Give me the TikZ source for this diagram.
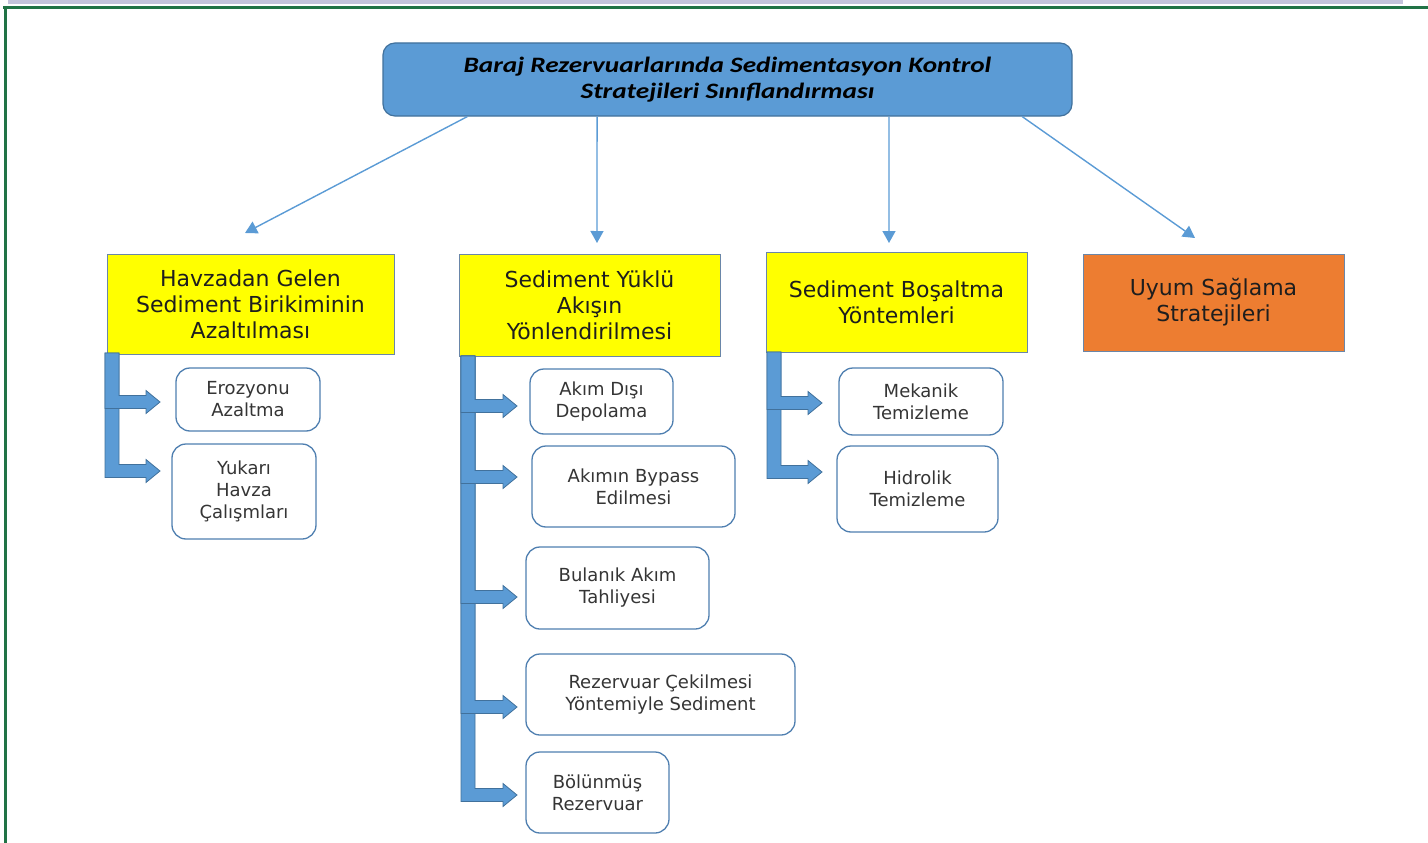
\documentclass[tikz,border=0pt]{standalone}
\usepackage{fontspec}
\setmainfont{DejaVu Sans}
\newfontfamily\titlefont[FakeStretch=1.24]{Carlito}
\usetikzlibrary{arrows.meta,calc}
\definecolor{tblue}{HTML}{5B9BD5}
\definecolor{tborder}{HTML}{41719C}
\definecolor{ybox}{HTML}{FFFF00}
\definecolor{yborder}{HTML}{6A86A8}
\definecolor{obox}{HTML}{ED7D31}
\definecolor{cborder}{HTML}{4F7FB0}
\definecolor{txt}{HTML}{1E1E1E}
\definecolor{xlgreen}{HTML}{217346}
\definecolor{band}{HTML}{C4C4DC}
\newcommand{\bentarr}[2]{%
  \path[bent] let \p1=(#1), \p2=(#2) in
    (\x1,\y1) -- (\x1+14pt,\y1) -- (\x1+14pt,\y2+6.5pt) -- (\x2-14pt,\y2+6.5pt)
    -- (\x2-14pt,\y2+11.5pt) -- (\x2,\y2) -- (\x2-14pt,\y2-11.5pt)
    -- (\x2-14pt,\y2-6.5pt) -- (\x1,\y2-6.5pt) -- cycle;}
\begin{document}
\begin{tikzpicture}[x=1pt,y=-1pt,
  titlebox/.style={draw=tborder, fill=tblue, rounded corners=12pt, line width=1.2pt,
    minimum width=689pt, minimum height=73pt, inner sep=0pt, align=center,
    font=\titlefont\bfseries\itshape\fontsize{22}{26}\selectfont, text=black},
  catbox/.style={draw=yborder, fill=ybox, line width=1pt, inner sep=0pt, align=center,
    font=\fontsize{22}{26}\selectfont, text=txt},
  childbox/.style={draw=cborder, fill=white, rounded corners=14pt, line width=1.3pt,
    inner sep=0pt, align=center, font=\fontsize{18}{22}\selectfont, text=txt!90},
  link/.style={draw=tblue, line width=1.4pt, -{Triangle[length=12pt,width=13pt]}},
  bent/.style={fill=tblue, draw=tborder, line width=0.8pt}]
\useasboundingbox (0,0) rectangle (1428,843);
% frame
\fill[band] (8,0) rectangle (1403,4);
\fill[xlgreen] (3,6) rectangle (1428,9);
\fill[xlgreen] (4,6) rectangle (7,843);

% title
\node[titlebox] (title) at (727.5,79.5) {Baraj Rezervuarlarında Sedimentasyon Kontrol\\Stratejileri Sınıflandırması};

% categories
\node[catbox, minimum width=287pt, minimum height=100pt] (k1) at (250.5,304) {Havzadan Gelen\\Sediment Birikiminin\\Azaltılması};
\node[catbox, minimum width=261pt, minimum height=102pt] (k2) at (589.5,305) {Sediment Yüklü\\Akışın\\Yönlendirilmesi};
\node[catbox, minimum width=261pt, minimum height=100pt] (k3) at (896.5,302) {Sediment Boşaltma\\Yöntemleri};
\node[catbox, fill=obox, minimum width=261pt, minimum height=97pt] (k4) at (1213.5,302.5) {Uyum Sağlama\\Stratejileri};

% links from title
\coordinate (e1) at (245,233);
\coordinate (e2) at (597,243);
\coordinate (e3) at (889,243);
\coordinate (e4) at (1195,238);
\draw[link] ($(title.south west)!0.123!(title.south east)$) -- (e1);
\draw[link] ($(title.south west)!0.311!(title.south east)$) -- (e2);
\draw[link] ($(title.south west)!0.734!(title.south east)$) -- (e3);
\draw[link] ($(title.south west)!0.927!(title.south east)$) -- (e4);

% children
\node[childbox, minimum width=144pt, minimum height=63pt] (c11) at (248,399.5) {Erozyonu\\Azaltma};
\node[childbox, minimum width=144pt, minimum height=95pt] (c12) at (244,491.5) {Yukarı\\Havza\\Çalışmları};
\node[childbox, minimum width=143pt, minimum height=65pt] (c21) at (601.5,401.5) {Akım Dışı\\Depolama};
\node[childbox, minimum width=203pt, minimum height=81pt] (c22) at (633.5,486.5) {Akımın Bypass\\Edilmesi};
\node[childbox, minimum width=183pt, minimum height=82pt] (c23) at (617.5,588) {Bulanık Akım\\Tahliyesi};
\node[childbox, minimum width=269pt, minimum height=81pt] (c24) at (660.5,694.5) {Rezervuar Çekilmesi\\Yöntemiyle Sediment};
\node[childbox, minimum width=143pt, minimum height=81pt] (c25) at (597.5,792.5) {Bölünmüş\\Rezervuar};
\node[childbox, minimum width=164pt, minimum height=67pt] (c31) at (921,401.5) {Mekanik\\Temizleme};
\node[childbox, minimum width=161pt, minimum height=86pt] (c32) at (917.5,489) {Hidrolik\\Temizleme};

% bracket arrows
\coordinate (g1) at (105,353);
\coordinate (t11) at (160,402);
\coordinate (t12) at (160,471);
\bentarr{g1}{t12}
\bentarr{g1}{t11}

\coordinate (g2) at (461,356);
\coordinate (t21) at (517,406);
\coordinate (t22) at (517,477);
\coordinate (t23) at (517,597);
\coordinate (t24) at (517,707);
\coordinate (t25) at (517,795);
\bentarr{g2}{t25}
\bentarr{g2}{t24}
\bentarr{g2}{t23}
\bentarr{g2}{t22}
\bentarr{g2}{t21}

\coordinate (g3) at (767,352);
\coordinate (t31) at (822,403);
\coordinate (t32) at (822,472);
\bentarr{g3}{t32}
\bentarr{g3}{t31}
\end{tikzpicture}
\end{document}
